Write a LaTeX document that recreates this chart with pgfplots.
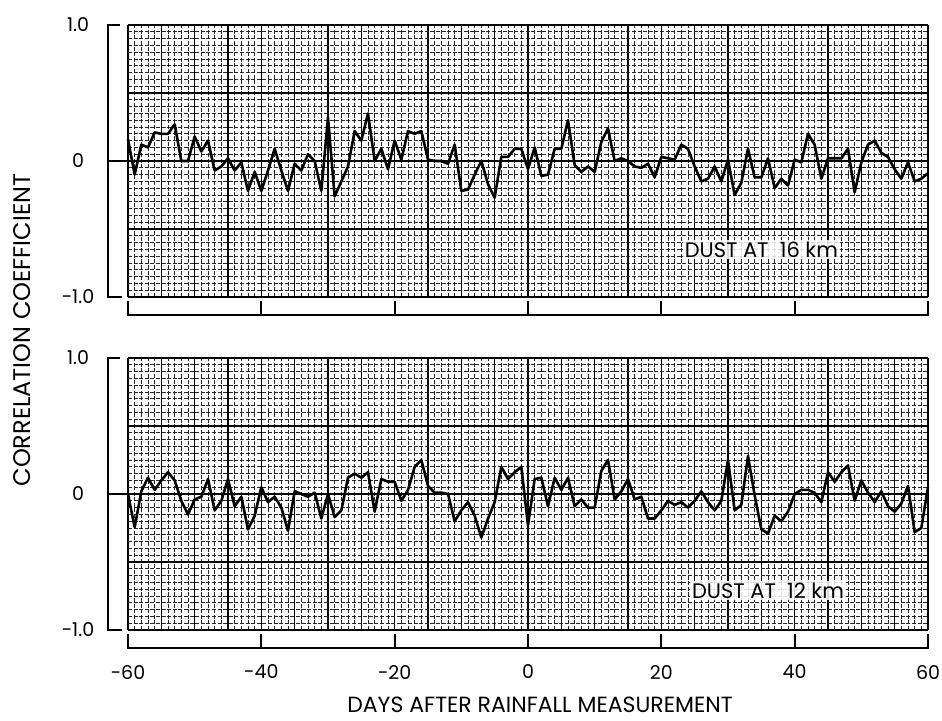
\documentclass[border=0pt]{standalone}
\usepackage{fontspec}
\setmainfont{Poppins}
\usepackage{pgfplots}
\pgfplotsset{compat=1.18}
\usepackage{pgfplotstable}

% correlation, dust at 16 km
\pgfplotstableread{
day r
-60 0.16
-59 -0.10
-58 0.12
-57 0.10
-56 0.21
-55 0.20
-54 0.20
-53 0.27
-52 0.00
-51 0.00
-50 0.18
-49 0.07
-48 0.15
-47 -0.07
-46 -0.04
-45 0.02
-44 -0.07
-43 -0.01
-42 -0.22
-41 -0.08
-40 -0.22
-39 -0.07
-38 0.09
-37 -0.07
-36 -0.22
-35 -0.02
-34 -0.07
-33 0.05
-32 0.00
-31 -0.22
-30 0.32
-29 -0.26
-28 -0.15
-27 -0.04
-26 0.22
-25 0.15
-24 0.35
-23 0.00
-22 0.09
-21 -0.06
-20 0.15
-19 0.01
-18 0.22
-17 0.20
-16 0.22
-15 0.01
-14 0.00
-13 0.00
-12 -0.02
-11 0.12
-10 -0.22
-9 -0.21
-8 -0.10
-7 0.00
-6 -0.17
-5 -0.27
-4 0.03
-3 0.03
-2 0.09
-1 0.09
0 -0.06
1 0.10
2 -0.11
3 -0.10
4 0.09
5 0.09
6 0.30
7 -0.03
8 -0.08
9 -0.04
10 -0.08
11 0.14
12 0.24
13 0.00
14 0.02
15 0.00
16 -0.04
17 -0.05
18 -0.02
19 -0.12
20 0.03
21 0.02
22 0.01
23 0.12
24 0.09
25 -0.04
26 -0.15
27 -0.13
28 -0.04
29 -0.15
30 0.01
31 -0.25
32 -0.16
33 0.09
34 -0.12
35 -0.12
36 0.02
37 -0.20
38 -0.13
39 -0.18
40 0.01
41 -0.01
42 0.20
43 0.12
44 -0.13
45 0.02
46 0.02
47 0.02
48 0.09
49 -0.23
50 -0.01
51 0.12
52 0.15
53 0.06
54 0.03
55 -0.06
56 -0.13
57 -0.01
58 -0.15
59 -0.13
60 -0.09
}\dustsixteen

% correlation, dust at 12 km
\pgfplotstableread{
day r
-60 0.00
-59 -0.245
-58 0.02
-57 0.12
-56 0.03
-55 0.10
-54 0.16
-53 0.10
-52 -0.05
-51 -0.15
-50 -0.04
-49 -0.02
-48 0.11
-47 -0.12
-46 -0.05
-45 0.11
-44 -0.09
-43 -0.02
-42 -0.26
-41 -0.16
-40 0.05
-39 -0.06
-38 -0.02
-37 -0.10
-36 -0.27
-35 0.02
-34 0.00
-33 -0.02
-32 0.01
-31 -0.18
-30 0.00
-29 -0.17
-28 -0.12
-27 0.12
-26 0.15
-25 0.12
-24 0.16
-23 -0.13
-22 0.11
-21 0.09
-20 0.09
-19 -0.05
-18 0.03
-17 0.20
-16 0.25
-15 0.06
-14 0.01
-13 0.01
-12 0.00
-11 -0.20
-10 -0.12
-9 -0.06
-8 -0.16
-7 -0.32
-6 -0.18
-5 -0.06
-4 0.20
-3 0.11
-2 0.16
-1 0.20
0 -0.23
1 0.11
2 0.12
3 -0.09
4 0.12
5 0.03
6 0.12
7 -0.09
8 -0.04
9 -0.10
10 -0.10
11 0.17
12 0.25
13 -0.04
14 0.02
15 0.11
16 -0.04
17 -0.02
18 -0.18
19 -0.18
20 -0.12
21 -0.05
22 -0.08
23 -0.06
24 -0.10
25 -0.05
26 0.02
27 -0.06
28 -0.12
29 -0.05
30 0.25
31 -0.12
32 -0.08
33 0.28
34 -0.01
35 -0.26
36 -0.29
37 -0.16
38 -0.20
39 -0.13
40 0.00
41 0.03
42 0.03
43 0.01
44 -0.06
45 0.16
46 0.09
47 0.16
48 0.21
49 -0.05
50 0.10
51 0.01
52 -0.06
53 0.02
54 -0.09
55 -0.13
56 -0.07
57 0.06
58 -0.28
59 -0.25
60 0.05
}\dusttwelve

\pgfplotsset{
  paper/.style={
    width=400pt, height=136pt, scale only axis,
    xmin=-60, xmax=60, ymin=-1, ymax=1,
    xtick={-60,-55,...,60},
    ytick={-1,-0.5,0,0.5,1},
    yticklabels={-1.0,,0,,1.0},
    minor x tick num=4, minor y tick num=9,
    grid=both,
    major grid style={black, line width=0.6pt},
    minor grid style={black!85, line width=0.32pt, dash pattern=on 2pt off 0.8pt},
    axis line style={draw=none},
    tick style={draw=none},
    major tick length=0pt, minor tick length=0pt,
    clip=false,
    tick label style={font=\fontsize{9.5}{11}\selectfont},
    yticklabel style={anchor=center, xshift=-25pt},
    xticklabel style={anchor=center, yshift=-21pt},
  },
  trace/.style={black, line width=1.3pt, line join=round, no markers},
}
\tikzset{bracket/.style={black, line width=1pt}}

\newcommand{\brackets}{%
  \draw[line width=1.1pt] (axis cs:-60,0) -- (axis cs:60,0);
  \draw[bracket] ([xshift=-4pt]axis cs:-60,1) -- ([xshift=-10pt]axis cs:-60,1)
    -- ([xshift=-10pt]axis cs:-60,-1) -- ([xshift=-3pt]axis cs:-60,-1);
  \draw[bracket] ([xshift=-10pt]axis cs:-60,0) -- (axis cs:-60,0);
  \draw[bracket] ([yshift=-2pt]axis cs:-60,-1) -- ([yshift=-9pt]axis cs:-60,-1)
    -- ([yshift=-9pt]axis cs:60,-1) -- ([yshift=-2pt]axis cs:60,-1);
  \pgfplotsinvokeforeach{-40,-20,0,20,40}{
    \draw[bracket] ([yshift=-9pt]axis cs:##1,-1) -- ([yshift=-2pt]axis cs:##1,-1);
  }%
}

\begin{document}
\begin{tikzpicture}
\useasboundingbox (0pt,0pt) rectangle (471pt,-360pt);

\begin{axis}[paper, at={(64pt,-12.5pt)}, anchor=north west, xticklabels={}]
\addplot[trace] table[x=day, y=r] {\dustsixteen};
\brackets
\node[fill=white, fill opacity=0.85, text opacity=1, inner sep=1pt,
      font=\fontsize{10.5}{12}\selectfont] at (axis cs:35,-0.65) {DUST AT\ \ 16 km};
\end{axis}

\begin{axis}[paper, at={(64pt,-179pt)}, anchor=north west,
  xticklabels={-60,,,,-40,,,,-20,,,,0,,,,20,,,,40,,,,60}]
\addplot[trace] table[x=day, y=r] {\dusttwelve};
\brackets
\node[fill=white, fill opacity=0.85, text opacity=1, inner sep=1pt,
      font=\fontsize{10.5}{12}\selectfont] at (axis cs:36,-0.71) {DUST AT\ \ 12 km};
\end{axis}

\node[rotate=90, inner sep=0pt, font=\fontsize{12}{14}\selectfont] at (11pt,-165pt) {CORRELATION COEFFICIENT};
\node[inner sep=0pt, font=\fontsize{11}{13}\selectfont] at (270pt,-352.5pt) {DAYS AFTER RAINFALL MEASUREMENT};
\end{tikzpicture}
\end{document}
